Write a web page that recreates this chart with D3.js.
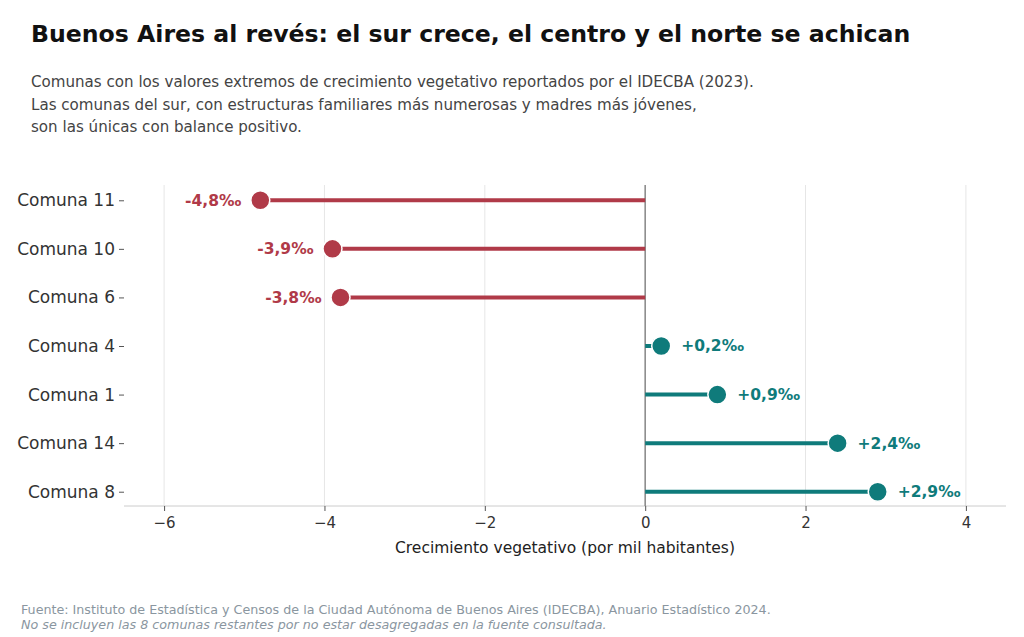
<!DOCTYPE html>
<html><head>
<meta charset="utf-8">
<script src="https://cdn.jsdelivr.net/npm/d3@7"></script>
<style>
body { margin: 0; background: #fff; }
text { font-family: "DejaVu Sans", sans-serif; }
</style>
</head>
<body>
<script>
var comunas = ["Comuna 11", "Comuna 10", "Comuna 6", "Comuna 4", "Comuna 1", "Comuna 14", "Comuna 8"];
var valores = [-4.8, -3.9, -3.8, 0.2, 0.9, 2.4, 2.9];
var etiquetas = ["-4,8‰", "-3,9‰", "-3,8‰", "+0,2‰", "+0,9‰", "+2,4‰", "+2,9‰"];
var ticks = [-6, -4, -2, 0, 2, 4];

var width = 1024, height = 637;
var rojo = "#b03a48", verde = "#0f7b7b";

var svg = d3.select("body").append("svg")
  .attr("width", width).attr("height", height);

var x = d3.scaleLinear().domain([-6.5, 4.5]).range([124, 1006]);
var y = d3.scalePoint().domain(comunas).range([176, 516]).padding(0.5);
var plotTop = 185, plotBottom = 506;

svg.append("text").text("Buenos Aires al revés: el sur crece, el centro y el norte se achican")
  .attr("x", 31).attr("y", 42).attr("font-size", 23.6).attr("font-weight", "bold").attr("fill", "#111");

["Comunas con los valores extremos de crecimiento vegetativo reportados por el IDECBA (2023).",
 "Las comunas del sur, con estructuras familiares más numerosas y madres más jóvenes,",
 "son las únicas con balance positivo."].forEach(function(t, i){
  svg.append("text").text(t).attr("x", 31).attr("y", 87 + i * 22.5)
    .attr("font-size", 15.1).attr("fill", "#444");
});

// grid
svg.selectAll(".grid").data(ticks).enter().append("line")
  .attr("x1", d => x(d)).attr("x2", d => x(d))
  .attr("y1", plotTop).attr("y2", plotBottom)
  .attr("stroke", "#e6e6e6").attr("stroke-width", 1);

// x axis
var xa = svg.append("g").attr("transform", "translate(0," + plotBottom + ")")
  .call(d3.axisBottom(x).tickValues(ticks).tickSize(5).tickFormat(d => d < 0 ? "−" + Math.abs(d) : d));
xa.select(".domain").attr("stroke", "#ccc").attr("d", "M124,0H1006");
xa.selectAll(".tick line").attr("stroke", "#555");
xa.selectAll("text").attr("font-size", 15).attr("fill", "#333").attr("dy", "0.9em");

svg.append("text").text("Crecimiento vegetativo (por mil habitantes)")
  .attr("x", x(-1)).attr("y", 553).attr("text-anchor", "middle")
  .attr("font-size", 15.5).attr("fill", "#222");

// y axis
var ya = svg.append("g").attr("transform", "translate(124,0)")
  .call(d3.axisLeft(y).tickSize(5));
ya.select(".domain").remove();
ya.selectAll(".tick line").attr("stroke", "#555");
ya.selectAll("text").attr("font-size", 17).attr("fill", "#333").attr("x", -9);

// zero line
svg.append("line").attr("x1", x(0)).attr("x2", x(0)).attr("y1", plotTop).attr("y2", plotBottom)
  .attr("stroke", "#888").attr("stroke-width", 1.5);

var data = comunas.map((c, i) => ({c: c, v: valores[i], l: etiquetas[i]}));

svg.selectAll(".stem").data(data).enter().append("line")
  .attr("x1", x(0)).attr("x2", d => x(d.v))
  .attr("y1", d => y(d.c)).attr("y2", d => y(d.c))
  .attr("stroke", d => d.v < 0 ? rojo : verde).attr("stroke-width", 4);

svg.selectAll(".dot").data(data).enter().append("circle")
  .attr("cx", d => x(d.v)).attr("cy", d => y(d.c)).attr("r", 9.5)
  .attr("fill", d => d.v < 0 ? rojo : verde).attr("stroke", "#fff").attr("stroke-width", 1.5);

svg.selectAll(".lab").data(data).enter().append("text")
  .text(d => d.l)
  .attr("x", d => x(d.v) + (d.v < 0 ? -19 : 20))
  .attr("y", d => y(d.c)).attr("dy", "0.35em")
  .attr("text-anchor", d => d.v < 0 ? "end" : "start")
  .attr("font-size", 15.5).attr("font-weight", "bold")
  .attr("fill", d => d.v < 0 ? rojo : verde);

svg.append("text").text("Fuente: Instituto de Estadística y Censos de la Ciudad Autónoma de Buenos Aires (IDECBA), Anuario Estadístico 2024.")
  .attr("x", 21).attr("y", 614).attr("font-size", 12.7).attr("fill", "#8a96a0");
svg.append("text").text("No se incluyen las 8 comunas restantes por no estar desagregadas en la fuente consultada.")
  .attr("x", 21).attr("y", 629).attr("font-size", 12.7).attr("fill", "#8a96a0").attr("font-style", "italic");
</script>
</body></html>
